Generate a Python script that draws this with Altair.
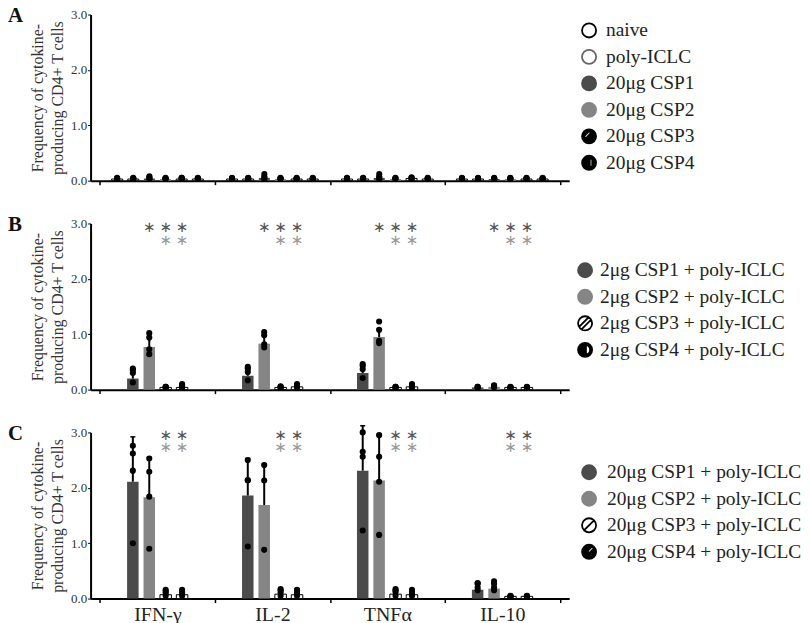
import altair as alt
import pandas as pd

FONT = "Liberation Serif, Times New Roman, Times, serif"

cytokines = ["IFN-γ", "IL-2", "TNFα", "IL-10"]

# ---------------- Panel A ----------------
groups_a = ["naive", "poly-ICLC", "20μg CSP1", "20μg CSP2", "20μg CSP3", "20μg CSP4"]
means_a = [
    [0.03, 0.03, 0.04, 0.03, 0.03, 0.03],
    [0.03, 0.03, 0.05, 0.03, 0.03, 0.03],
    [0.03, 0.03, 0.05, 0.03, 0.04, 0.03],
    [0.03, 0.03, 0.03, 0.03, 0.03, 0.03],
]
errs_a = [
    [0.01, 0.01, 0.02, 0.01, 0.01, 0.01],
    [0.01, 0.01, 0.04, 0.01, 0.01, 0.01],
    [0.01, 0.01, 0.04, 0.01, 0.01, 0.01],
    [0.01, 0.01, 0.01, 0.01, 0.01, 0.01],
]
dots_a = [
    [[0.03, 0.04, 0.04, 0.05], [0.03, 0.04, 0.04, 0.05], [0.03, 0.04, 0.06, 0.08],
     [0.03, 0.04, 0.04, 0.05], [0.03, 0.04, 0.05, 0.05], [0.03, 0.04, 0.04, 0.05]],
    [[0.03, 0.04, 0.04, 0.05], [0.03, 0.04, 0.04, 0.05], [0.03, 0.05, 0.07, 0.12],
     [0.03, 0.04, 0.04, 0.05], [0.03, 0.04, 0.04, 0.05], [0.03, 0.04, 0.04, 0.05]],
    [[0.03, 0.04, 0.04, 0.05], [0.03, 0.04, 0.04, 0.05], [0.03, 0.05, 0.07, 0.12],
     [0.03, 0.04, 0.04, 0.05], [0.03, 0.04, 0.05, 0.06], [0.03, 0.04, 0.04, 0.05]],
    [[0.03, 0.04, 0.04, 0.05], [0.03, 0.04, 0.04, 0.05], [0.03, 0.04, 0.04, 0.05],
     [0.03, 0.04, 0.04, 0.05], [0.03, 0.04, 0.04, 0.05], [0.03, 0.04, 0.04, 0.05]],
]

# ---------------- Panel B ----------------
groups_b = ["2μg CSP1 + poly-ICLC", "2μg CSP2 + poly-ICLC",
            "2μg CSP3 + poly-ICLC", "2μg CSP4 + poly-ICLC"]
means_b = [
    [0.20, 0.77, 0.04, 0.04],
    [0.25, 0.83, 0.04, 0.05],
    [0.30, 0.95, 0.04, 0.05],
    [0.04, 0.05, 0.04, 0.04],
]
errs_b = [
    [0.12, 0.17, 0.01, 0.03],
    [0.11, 0.16, 0.01, 0.03],
    [0.12, 0.15, 0.01, 0.03],
    [0.01, 0.02, 0.01, 0.01],
]
dots_b = [
    [[0.13, 0.30, 0.35, 0.38], [0.64, 0.73, 0.94, 1.02], [0.03, 0.04, 0.05, 0.05], [0.03, 0.05, 0.08, 0.10]],
    [[0.17, 0.32, 0.38, 0.41], [0.76, 0.82, 0.98, 1.04], [0.03, 0.04, 0.05, 0.06], [0.04, 0.06, 0.08, 0.10]],
    [[0.21, 0.37, 0.43, 0.46], [0.84, 0.88, 1.08, 1.23], [0.03, 0.04, 0.05, 0.05], [0.04, 0.06, 0.08, 0.10]],
    [[0.03, 0.04, 0.05, 0.05], [0.04, 0.06, 0.07, 0.08], [0.03, 0.04, 0.04, 0.05], [0.03, 0.04, 0.04, 0.05]],
]
star_rows_b = [2.93, 2.71]
star_cols_b = [[1, 2, 3], [2, 3]]

# ---------------- Panel C ----------------
groups_c = ["20μg CSP1 + poly-ICLC", "20μg CSP2 + poly-ICLC",
            "20μg CSP3 + poly-ICLC", "20μg CSP4 + poly-ICLC"]
means_c = [
    [2.11, 1.83, 0.07, 0.07],
    [1.86, 1.69, 0.08, 0.07],
    [2.31, 2.13, 0.08, 0.07],
    [0.16, 0.18, 0.04, 0.04],
]
errs_c = [
    [0.81, 0.72, 0.07, 0.07],
    [0.67, 0.74, 0.07, 0.07],
    [0.81, 0.84, 0.07, 0.07],
    [0.11, 0.11, 0.01, 0.01],
]
dots_c = [
    [[1.00, 2.31, 2.62, 2.76], [0.90, 1.84, 2.29, 2.53], [0.05, 0.10, 0.13, 0.16], [0.05, 0.09, 0.12, 0.16]],
    [[0.94, 2.13, 2.14, 2.50], [0.88, 2.13, 2.41], [0.05, 0.11, 0.15, 0.17], [0.05, 0.10, 0.14, 0.16]],
    [[1.23, 2.56, 2.65, 3.00], [1.15, 2.11, 2.56, 2.95], [0.05, 0.12, 0.15, 0.17], [0.05, 0.10, 0.13, 0.16]],
    [[0.15, 0.20, 0.27, 0.28], [0.15, 0.20, 0.27, 0.31], [0.03, 0.04, 0.04, 0.05], [0.03, 0.04, 0.04, 0.05]],
]
star_rows_c = [2.95, 2.74]
star_cols_c = [[2, 3], [2, 3]]

star_colors = ["#555555", "#9a9a9a"]
panel_letters = ["A", "B", "C"]

# ---------------- styles ----------------
DARK = "#4b4b4b"
MID = "#858585"
CIRC = "M1,0A1,1 0 1,1 -1,0A1,1 0 1,1 1,0Z"
A3 = CIRC + "M-0.73,0.02L-0.47,0.28L0.28,-0.47L0.02,-0.73Z"
A4 = CIRC + "M0.1,-0.55L0.1,0.55L0.45,0.55L0.45,-0.55Z"
B3 = CIRC + "M0.86,-0.51L-0.51,0.86M0.51,-0.86L-0.86,0.51"
B4 = CIRC + "M0.12,-0.7L0.12,0.7A0.71,0.71 0 0,0 0.12,-0.7Z"
C3 = CIRC + "M-0.7,0.7L0.7,-0.7"
C4 = CIRC + "M0.42,-0.73L-0.23,-0.08L0.03,0.18L0.68,-0.47Z"


def bars_df(groups, means, errs):
    rows = []
    for ci, c in enumerate(cytokines):
        for gi, g in enumerate(groups):
            rows.append({"cytokine": c, "group": g, "mean": means[ci][gi],
                         "upper": means[ci][gi] + errs[ci][gi]})
    return pd.DataFrame(rows)


def dots_df(groups, dots):
    rows = []
    for ci, c in enumerate(cytokines):
        for gi, g in enumerate(groups):
            for v in dots[ci][gi]:
                rows.append({"cytokine": c, "group": g, "value": v})
    return pd.DataFrame(rows)


def stars_df(groups, yval, cols):
    rows = []
    for c in cytokines:
        for gi in cols:
            rows.append({"cytokine": c, "group": groups[gi], "y": yval})
    return pd.DataFrame(rows)


def legend_layer(groups, fills, strokes, shapes, yrange, sym_x, txt_x):
    ldf = pd.DataFrame({"group": groups})
    y = alt.Y("group:N", scale=alt.Scale(domain=groups, range=yrange,
                                         paddingInner=0, paddingOuter=0), axis=None)
    sym = alt.Chart(ldf).mark_point(filled=True, opacity=1, size=200,
                                    strokeWidth=1.8).encode(
        y=y, x=alt.value(sym_x),
        color=alt.Color("group:N", scale=alt.Scale(domain=groups, range=fills), legend=None),
        shape=alt.Shape("group:N", scale=alt.Scale(domain=groups, range=shapes), legend=None),
        stroke=alt.Stroke("group:N", scale=alt.Scale(domain=groups, range=strokes), legend=None),
    )
    txt = alt.Chart(ldf).mark_text(align="left", baseline="middle", font=FONT,
                                   fontSize=19.5, color="#222").encode(
        y=y, x=alt.value(txt_x), text="group:N",
    )
    return alt.layer(sym, txt)


def panel(letter, groups, means, errs, dots, bar_fills, white_groups,
          star_rows, star_cols, slots, off_pi, off_po, show_labels, legend):
    xaxis = alt.Axis(title=None, labels=show_labels, labelFont=FONT, labelFontSize=20,
                     labelColor="#222", labelPadding=2, labelAngle=0, ticks=True,
                     tickSize=4, tickWidth=1.5, tickColor="black", tickBand="extent",
                     domainColor="black", domainWidth=2, grid=False)
    xs = alt.Scale(domain=cytokines, paddingInner=0, paddingOuter=0.082)
    x = alt.X("cytokine:N", scale=xs, axis=xaxis)
    xo = alt.XOffset("group:N", scale=alt.Scale(domain=slots, paddingInner=off_pi,
                                                paddingOuter=off_po))
    yaxis = alt.Axis(title=["Frequency of cytokine-", "producing CD4+ T cells"],
                     titleFont=FONT, titleFontSize=16, titleFontWeight="normal",
                     titleColor="#333", titleLineHeight=20, titlePadding=5,
                     values=[0, 1, 2, 3], format=".1f", labelFont=FONT,
                     labelFontSize=13, labelColor="#333", labelPadding=1,
                     tickSize=3, tickWidth=1, tickColor="black", domainColor="black",
                     domainWidth=2, grid=False)
    ys = alt.Scale(domain=[0, 3], nice=False)

    bdf = bars_df(groups, means, errs)
    ddf = dots_df(groups, dots)

    bars = alt.Chart(bdf).mark_bar(strokeWidth=1).encode(
        x=x, xOffset=xo,
        y=alt.Y("mean:Q", scale=ys, axis=yaxis),
        fill=alt.Fill("group:N", scale=alt.Scale(domain=groups, range=bar_fills), legend=None),
        stroke=alt.condition(alt.FieldOneOfPredicate(field="group", oneOf=white_groups),
                             alt.value("black"), alt.value("transparent")),
    )
    rule = alt.Chart(bdf).mark_rule(color="black", strokeWidth=2).encode(
        x=x, xOffset=xo,
        y=alt.Y("mean:Q", scale=ys, axis=yaxis), y2="upper:Q",
    )
    cap = alt.Chart(bdf).mark_tick(color="black", thickness=1.5, size=5, opacity=1).encode(
        x=x, xOffset=xo, y=alt.Y("upper:Q", scale=ys, axis=yaxis),
    )
    pts = alt.Chart(ddf).mark_circle(size=38, color="black", opacity=1).encode(
        x=x, xOffset=xo, y=alt.Y("value:Q", scale=ys, axis=yaxis),
    )
    layers = [bars, rule, cap, pts]
    for r, (yv, cols) in enumerate(zip(star_rows, star_cols)):
        layers.append(
            alt.Chart(stars_df(groups, yv, cols)).mark_text(
                text="∗", font="DejaVu Sans", fontSize=15, color=star_colors[r],
                baseline="middle", align="center",
            ).encode(x=x, xOffset=xo, y=alt.Y("y:Q", scale=ys, axis=yaxis))
        )
    letter_layer = alt.Chart(alt.Data(values=[{"t": letter}])).mark_text(
        font=FONT, fontSize=21, fontWeight="bold", align="left", baseline="top",
        color="#111",
    ).encode(x=alt.value(-83), y=alt.value(-9), text="t:N")
    layers.append(letter_layer)
    plot = alt.layer(*layers)
    return alt.layer(plot, legend).resolve_scale(y="independent").properties(
        width=481, height=167)


# four-bar panels keep one empty slot on each side of the group
slots_b = ["_l"] + groups_b + ["_r"]
slots_c = ["_l"] + groups_c + ["_r"]

lA = legend_layer(groups_a,
                  ["white", "white", DARK, MID, "black", "black"],
                  ["black", "#666666", DARK, MID, "black", "black"],
                  ["circle", "circle", "circle", "circle", A3, A4],
                  [2.7, 162.3], 501, 518)
lB = legend_layer(groups_b,
                  [DARK, MID, "white", "black"],
                  [DARK, MID, "black", "black"],
                  ["circle", "circle", B3, B4],
                  [33.7, 140.3], 497, 512)
lC = legend_layer(groups_c,
                  [DARK, MID, "white", "black"],
                  [DARK, MID, "black", "black"],
                  ["circle", "circle", C3, C4],
                  [26.7, 133.3], 501, 519)

pA = panel(panel_letters[0], groups_a, means_a, errs_a, dots_a,
           ["white", "white", DARK, MID, "white", "white"],
           ["naive", "poly-ICLC", "20μg CSP3", "20μg CSP4"],
           [], [], groups_a, 0.32, 0.72, False, lA)
pB = panel(panel_letters[1], groups_b, means_b, errs_b, dots_b,
           [DARK, MID, "white", "white"], groups_b[2:],
           star_rows_b, star_cols_b, slots_b, 0.3, 0.65, False, lB)
pC = panel(panel_letters[2], groups_c, means_c, errs_c, dots_c,
           [DARK, MID, "white", "white"], groups_c[2:],
           star_rows_c, star_cols_c, slots_c, 0.3, 0.65, True, lC)

RES = dict(x="independent", y="independent", xOffset="independent",
           fill="independent", stroke="independent", color="independent",
           shape="independent")

chart = alt.vconcat(pA, pB, pC, spacing=43, bounds="flush").resolve_scale(**RES).properties(
    padding={"top": -4, "left": 0, "right": 0, "bottom": 0}
).configure_view(stroke=None)

chart.save("out.html", embed_options={"renderer": "svg", "actions": False})
